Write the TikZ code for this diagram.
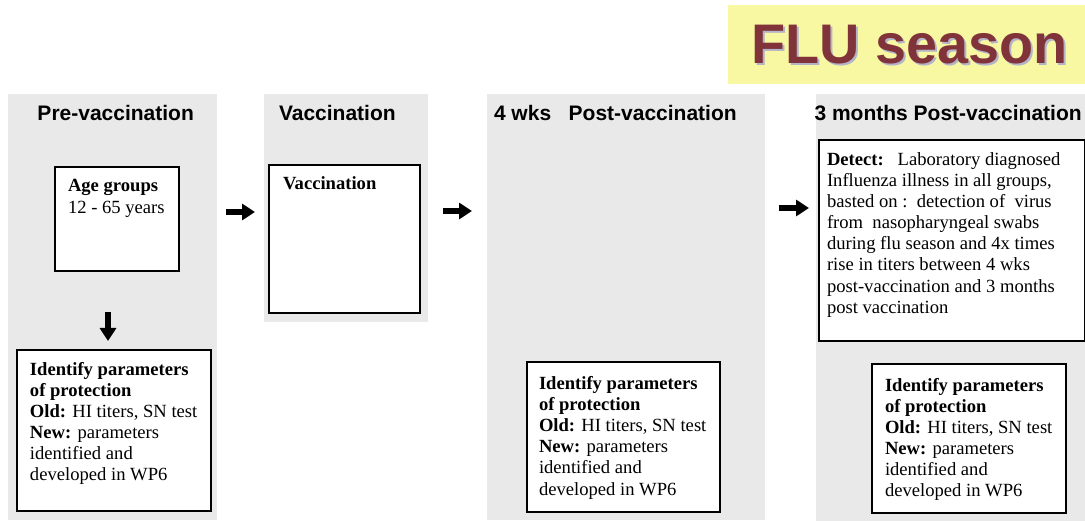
\documentclass[tikz,border=0pt]{standalone}
\usepackage{fontspec}
\setmainfont{Liberation Serif}
\newfontfamily\titlefont{Liberation Sans}
\usetikzlibrary{arrows.meta}
\definecolor{panelgray}{HTML}{E9E9E9}
\definecolor{flubg}{HTML}{F8F8A2}
\definecolor{flutext}{HTML}{80343A}
\definecolor{flushadow}{HTML}{B4B4C8}
\newcommand{\serifsz}{\fontsize{18.6}{21.1}\selectfont}
\tikzset{
  panel/.style={fill=panelgray, draw=none, inner sep=0pt, outer sep=0pt, anchor=north west},
  box/.style={draw=black, line width=2pt, fill=white, inner sep=0pt, outer sep=0pt, anchor=north west},
  txt/.style={anchor=north west, inner sep=0pt, outer sep=0pt, align=left, font=\serifsz},
  ttl/.style={anchor=base west, inner sep=0pt, outer sep=0pt, font=\titlefont\bfseries\fontsize{21}{25}\selectfont},
  blockarrow/.style={line width=6.5pt, -{Triangle[length=13pt,width=16pt]}},
}
\begin{document}
\begin{tikzpicture}[x=1pt,y=-1pt]
\useasboundingbox (0,0) rectangle (1085,521);
% FLU season banner
\node[fill=flubg, inner sep=0pt, outer sep=0pt, anchor=north west, minimum width=357, minimum height=79] (flubox) at (728,5) {};
\node[anchor=base west, inner sep=0pt, text=flushadow, font=\titlefont\bfseries\fontsize{55.8}{60}\selectfont] (flushadow) at (753,65.5) {FLU season};
\node[anchor=base west, inner sep=0pt, text=flutext, font=\titlefont\bfseries\fontsize{55.8}{60}\selectfont] (flutitle) at (751,63.5) {FLU season};
% panels
\node[panel, minimum width=209, minimum height=426] (p1) at (8,94) {};
\node[panel, minimum width=164, minimum height=228] (p2) at (264,94) {};
\node[panel, minimum width=278, minimum height=426] (p3) at (487,94) {};
\node[panel, minimum width=269, minimum height=427] (p4) at (816,94) {};
% titles
\node[ttl] (t1) at (37.5,120.7) {Pre-vaccination};
\node[ttl] (t2) at (279,120.7) {Vaccination};
\node[ttl] (t3) at (494,120.7) {4 wks\ \ \ Post-vaccination};
\node[ttl] (t4) at (814.5,120.7) {3 months Post-vaccination};
% boxes
\node[box, minimum width=124, minimum height=104] (age) at (55,167) {};
\node[txt] (agetxt) at (68,179.5) {\textbf{Age groups}\\[1pt]12 - 65 years};
\node[box, minimum width=194, minimum height=161] (id1) at (17,350) {};
\node[txt] (id1txt) at (30,362) {\textbf{Identify parameters}\\\textbf{of protection}\\\textbf{Old:} HI titers, SN test\\\textbf{New:} parameters\\identified and\\developed in WP6};
\node[box, minimum width=151, minimum height=148] (vac) at (269,165) {};
\node[txt] (vactxt) at (283,176.5) {\textbf{Vaccination}};
\node[box, minimum width=193, minimum height=149] (id3) at (527,362.5) {};
\node[txt] (id3txt) at (539,376.5) {\textbf{Identify parameters}\\\textbf{of protection}\\\textbf{Old:} HI titers, SN test\\\textbf{New:} parameters\\identified and\\developed in WP6};
\node[box, minimum width=266, minimum height=201] (det) at (819,140.5) {};
\node[txt] (dettxt) at (827,152.5) {\textbf{Detect:}\ \ \ Laboratory diagnosed\\Influenza illness in all groups,\\basted on :\ \ detection of\ \ virus\\from\ \ nasopharyngeal swabs\\during flu season and 4x times\\rise in titers between 4 wks\\post-vaccination and 3 months\\post vaccination};
\node[box, minimum width=194, minimum height=149] (id4) at (872,364) {};
\node[txt] (id4txt) at (885,378) {\textbf{Identify parameters}\\\textbf{of protection}\\\textbf{Old:} HI titers, SN test\\\textbf{New:} parameters\\identified and\\developed in WP6};
% arrows
\coordinate (a1s) at (226,212);
\coordinate (a1e) at (255,212);
\coordinate (a2s) at (443,211);
\coordinate (a2e) at (472,211);
\coordinate (a3s) at (779,208);
\coordinate (a3e) at (809,208);
\coordinate (a4s) at (108,312);
\coordinate (a4e) at (108,341);
\draw[blockarrow] (a1s) -- (a1e);
\draw[blockarrow] (a2s) -- (a2e);
\draw[blockarrow] (a3s) -- (a3e);
\draw[blockarrow] (a4s) -- (a4e);
\end{tikzpicture}
\end{document}
